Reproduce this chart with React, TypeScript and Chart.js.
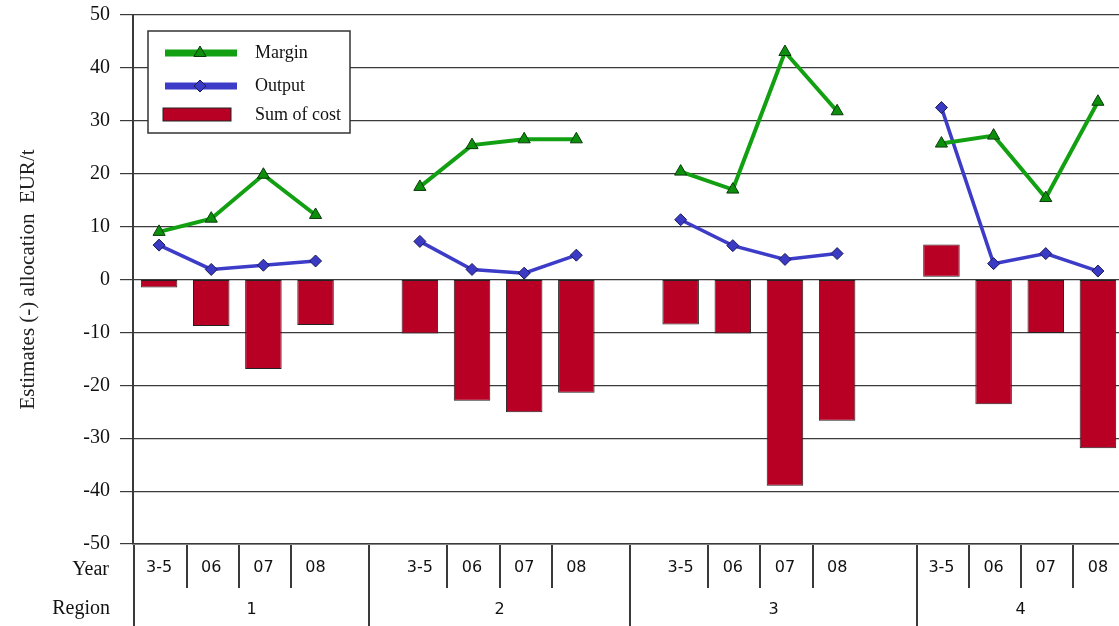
import React, { useEffect, useRef } from 'react';
import { Chart, registerables } from 'chart.js';

Chart.register(...registerables);

// ---- data ----
const categories = ['3-5', '06', '07', '08', '', '3-5', '06', '07', '08', '', '3-5', '06', '07', '08', '', '3-5', '06', '07', '08'];
const regions = ['1', '2', '3', '4'];
const rowTitles = ['Year', 'Region'];
const margin = [9.0, 11.5, 19.8, 12.2, null, 17.5, 25.4, 26.5, 26.5, null, 20.4, 17.0, 43.0, 31.8, null, 25.7, 27.2, 15.4, 33.6];
const output = [6.5, 1.9, 2.7, 3.5, null, 7.2, 1.9, 1.2, 4.6, null, 11.3, 6.4, 3.8, 4.9, null, 32.5, 3.0, 4.9, 1.6];
const sumOfCost = [-1.5, -8.8, -16.9, -8.6, null, -10.2, -22.9, -25.1, -21.4, null, -8.5, -10.2, -39.0, -26.7, null, 6.6, -23.6, -10.1, -31.9];
const sumOfCostBase = [0, 0, 0, 0, null, 0, 0, 0, 0, null, 0, 0, 0, 0, null, 0.5, 0, 0, 0];
const yMin = -50;
const yMax = 50;
const yStep = 10;
const yTitle = 'Estimates (-) allocation  EUR/t';

const SERIF = '"Liberation Serif", "Times New Roman", serif';
const SANS = '"DejaVu Sans", Verdana, sans-serif';

const W = 1132;
const H = 626;

const tablePlugin = {
  id: 'tableAndLegend',
  afterDraw(chart: any) {
    const ctx = chart.ctx as CanvasRenderingContext2D;
    const x = chart.scales.x;
    const area = chart.chartArea;
    const step = x.getPixelForValue(1) - x.getPixelForValue(0);
    const x0 = x.getPixelForValue(0);
    const top = area.bottom + 1;
    const h = chart.height;
    ctx.save();
    ctx.strokeStyle = '#3a3a3a';
    ctx.lineWidth = 2;
    const line = (ax: number, ay: number, bx: number, by: number) => {
      ctx.beginPath();
      ctx.moveTo(ax, ay);
      ctx.lineTo(bx, by);
      ctx.stroke();
    };
    // left table line
    line(area.left + 1, top, area.left + 1, h);
    // year separators
    for (let i = 0; i < categories.length - 1; i++) {
      if (categories[i] && categories[i + 1]) {
        const px = Math.round(x0 + (i + 0.5) * step + 1.5);
        line(px, top, px, 588);
      }
    }
    // region separators
    const sepIdx = [4, 9, 14.5];
    const seps = sepIdx.map((v) => Math.round(x0 + v * step + 1.5));
    seps.forEach((px) => line(px, top, px, h));
    const bounds = [area.left + 1, ...seps, area.right];
    // row titles
    ctx.fillStyle = '#111';
    ctx.font = `20px ${SERIF}`;
    ctx.textAlign = 'right';
    ctx.textBaseline = 'middle';
    ctx.fillText(rowTitles[0], 109, 570);
    ctx.fillText(rowTitles[1], 110, 609);
    // region labels
    ctx.font = `16px ${SANS}`;
    ctx.textAlign = 'center';
    regions.forEach((r, i) => {
      ctx.fillText(r, (bounds[i] + bounds[i + 1]) / 2, 610);
    });

    // legend
    const ds = chart.data.datasets;
    const lx = 148, ly = 31, lw = 202, lh = 102;
    ctx.fillStyle = '#ffffff';
    ctx.fillRect(lx, ly, lw, lh);
    ctx.strokeStyle = '#333';
    ctx.lineWidth = 1.5;
    ctx.strokeRect(lx, ly, lw, lh);
    const rows = [53, 86, 115];
    const legendOrder = [0, 1, 2];
    legendOrder.forEach((di, k) => {
      const d = ds[di];
      const yy = rows[k];
      if (d.type === 'line') {
        ctx.strokeStyle = d.borderColor;
        ctx.lineWidth = 7;
        line(165, yy, 237, yy);
        ctx.fillStyle = d.pointBackgroundColor;
        ctx.strokeStyle = d.pointBorderColor;
        ctx.lineWidth = 1;
        ctx.beginPath();
        if (d.pointStyle === 'triangle') {
          const r = 7;
          ctx.moveTo(200, yy - r);
          ctx.lineTo(200 + r * 0.866, yy + r * 0.5);
          ctx.lineTo(200 - r * 0.866, yy + r * 0.5);
        } else {
          const r = 6;
          ctx.moveTo(200 - r, yy);
          ctx.lineTo(200, yy - r);
          ctx.lineTo(200 + r, yy);
          ctx.lineTo(200, yy + r);
        }
        ctx.closePath();
        ctx.fill();
        ctx.stroke();
      } else {
        ctx.fillStyle = d.backgroundColor;
        ctx.fillRect(163, yy - 7, 68, 13);
        ctx.strokeStyle = '#222';
        ctx.lineWidth = 1;
        ctx.strokeRect(163, yy - 7, 68, 13);
      }
      ctx.fillStyle = '#111';
      ctx.font = `18px ${SERIF}`;
      ctx.textAlign = 'left';
      ctx.textBaseline = 'middle';
      ctx.fillText(d.label, 255, yy);
    });
    ctx.restore();
  },
};

export default function App() {
  const ref = useRef<HTMLCanvasElement | null>(null);

  useEffect(() => {
    document.body.style.overflow = 'hidden';
    document.documentElement.style.overflow = 'hidden';
    const canvas = ref.current;
    if (!canvas) return;
    const chart = new Chart(canvas, {
      type: 'bar',
      data: {
        labels: categories,
        datasets: [
          {
            type: 'line',
            label: 'Margin',
            data: margin,
            borderColor: '#12a012',
            borderWidth: 4,
            pointStyle: 'triangle',
            pointRadius: 7,
            pointBackgroundColor: '#0c900c',
            pointBorderColor: '#0a3a0a',
            pointBorderWidth: 1,
            spanGaps: false,
            order: 0,
          } as any,
          {
            type: 'line',
            label: 'Output',
            data: output,
            borderColor: '#3c3cc8',
            borderWidth: 3.5,
            pointStyle: 'rectRot',
            pointRadius: 6,
            pointBackgroundColor: '#3a3ac4',
            pointBorderColor: '#1a1a55',
            pointBorderWidth: 1,
            spanGaps: false,
            order: 1,
          } as any,
          {
            type: 'bar',
            label: 'Sum of cost',
            data: sumOfCost.map((v, i) => (v === null ? null : [sumOfCostBase[i] as number, v])),
            backgroundColor: '#b80024',
            borderColor: '#222',
            borderWidth: 1,
            borderSkipped: false,
            barPercentage: 0.7,
            categoryPercentage: 1,
            order: 2,
          } as any,
        ],
      },
      options: {
        responsive: false,
        animation: false,
        devicePixelRatio: 1,
        layout: { padding: { top: 15, left: 0, right: 2, bottom: 0 } },
        plugins: {
          legend: { display: false },
          tooltip: { enabled: false },
          title: { display: false },
        },
        scales: {
          x: {
            type: 'category',
            offset: true,
            grid: { display: false, drawTicks: false },
            border: { display: true, color: '#3a3a3a', width: 1.5 },
            ticks: {
              color: '#111',
              font: { family: SANS, size: 16 },
              padding: 14,
              autoSkip: false,
              maxRotation: 0,
            },
            afterFit(scale: any) {
              scale.height = 82;
              scale.paddingLeft = 0;
              scale.paddingRight = 0;
            },
          },
          y: {
            type: 'linear',
            min: yMin,
            max: yMax,
            ticks: {
              stepSize: yStep,
              color: '#111',
              font: { family: SERIF, size: 20 },
              padding: 10,
            },
            grid: { color: '#3a3a3a', lineWidth: 1.2, tickLength: 13, drawTicks: true },
            border: { display: true, color: '#3a3a3a', width: 2 },
            title: {
              display: true,
              text: yTitle,
              color: '#222',
              font: { family: SERIF, size: 21, weight: 'normal' },
              padding: { top: 16, bottom: 0 },
            },
            afterFit(scale: any) {
              scale.width = 133;
              scale.paddingTop = 0;
              scale.paddingBottom = 0;
            },
          },
        },
      },
      plugins: [tablePlugin],
    });
    return () => chart.destroy();
  }, []);

  return (
    <div style={{ position: 'fixed', left: 0, top: 0, width: W, height: H, background: '#fff' }}>
      <canvas ref={ref} width={W} height={H} style={{ width: W, height: H, display: 'block' }} />
    </div>
  );
}
